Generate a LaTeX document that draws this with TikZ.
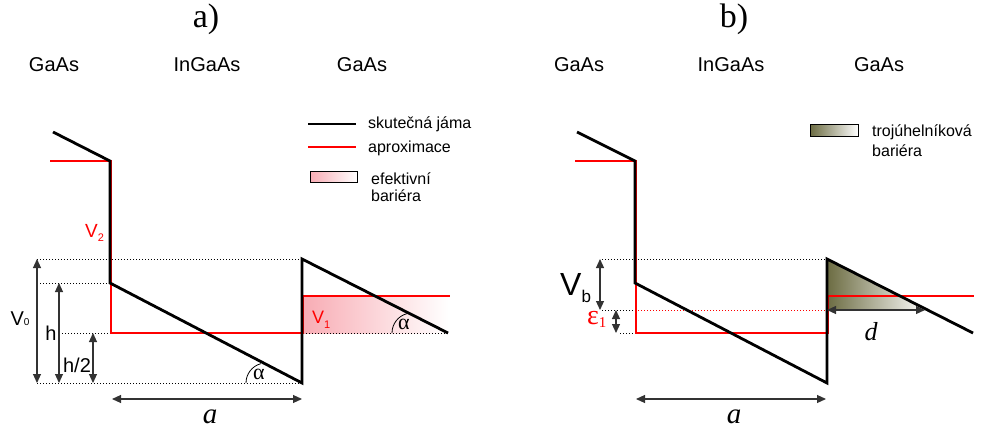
\documentclass[tikz,border=0pt]{standalone}
\usepackage{fontspec}
\setmainfont{Liberation Serif}
\setsansfont{Liberation Sans}
\usetikzlibrary{arrows.meta}
\definecolor{barpink}{RGB}{248,172,180}
\definecolor{barolive}{RGB}{108,108,66}
\tikzset{
  band/.style={line width=2.8pt},
  approx/.style={red, line width=1.1pt},
  guide/.style={dotted, line width=1pt},
  dimarrow/.style={{Triangle[length=9pt,width=8pt]}-{Triangle[length=9pt,width=8pt]},
    line width=1.1pt, black!80},
  lbl/.style={font=\sffamily\fontsize{20}{24}\selectfont, inner sep=0pt},
  legtext/.style={font=\sffamily\fontsize{16}{19}\selectfont, inner sep=0pt, anchor=base west},
  title/.style={font=\fontsize{34}{40}\selectfont, inner sep=0pt, anchor=base},
  var/.style={font=\itshape\fontsize{29}{32}\selectfont, inner sep=0pt, anchor=base},
}
\begin{document}
\begin{tikzpicture}[x=1pt,y=-1pt]
  \useasboundingbox (0,0) rectangle (981,430);

  % ---- a) ----
  \node[title] (ta) at (206,28) {a)};
  \node[lbl, anchor=base] (ga1) at (54,72) {GaAs};
  \node[lbl, anchor=base] (in1) at (207,72) {InGaAs};
  \node[lbl, anchor=base] (ga2) at (362,72) {GaAs};

  \coordinate (A1) at (53,132);
  \coordinate (A2) at (110,161);
  \coordinate (A3) at (110,283);
  \coordinate (A4) at (302,383);
  \coordinate (A5) at (302,259);
  \coordinate (A6) at (448,333);

  \fill[left color=barpink, right color=white] (303,296) rectangle (448,333);

  \draw[guide] (37,259) -- (A5);
  \draw[guide] (40,283) -- (A3);
  \draw[guide] (62,333) -- (110,333);
  \draw[guide] (303,333) -- (A6);
  \draw[guide] (37,383) -- (A4);

  \draw[approx] (50,161) -- (111,161) -- (111,333) -- (303.5,333) -- (303.5,296) -- (450,296);
  \draw[band] (A1) -- (A2) -- (A3) -- (A4) -- (A5) -- (A6);

  \draw[dimarrow] (37,259) -- (37,383);
  \draw[dimarrow] (59,283) -- (59,383);
  \draw[dimarrow] (93,333) -- (93,383);
  \draw[dimarrow] (112,399) -- (302,399);

  \node[lbl, anchor=base] (v0) at (20,325) {V{\fontsize{10}{10}\selectfont 0}};
  \node[lbl, anchor=base] (h) at (51,340) {h};
  \node[lbl, anchor=base] (h2) at (77,372) {h/2};
  \node[lbl, anchor=base west, red, font=\sffamily\fontsize{19}{22}\selectfont] (v2) at (85,237)
    {V\raisebox{-4pt}{\fontsize{11}{11}\selectfont 2}};
  \node[lbl, anchor=base west, red, font=\sffamily\fontsize{18}{22}\selectfont] (v1) at (312,323)
    {V\raisebox{-5pt}{\fontsize{11}{11}\selectfont 1}};
  \node[var] (la) at (210,423) {a};

  \draw[line width=0.8pt] (246,383) arc[start angle=180, end angle=105, radius=20pt];
  \node[inner sep=0pt, anchor=base, font=\fontsize{22}{24}\selectfont] (al1) at (259,379) {α};
  \draw[line width=0.8pt] (392,333) arc[start angle=180, end angle=105, radius=20pt];
  \node[inner sep=0pt, anchor=base, font=\fontsize{22}{24}\selectfont] (al2) at (404,329) {α};

  % legend a
  \draw[line width=1.1pt] (308,124) -- (356,124);
  \node[legtext] (l1) at (368,129) {skutečná jáma};
  \draw[approx] (308,147) -- (356,147);
  \node[legtext] (l2) at (368,153) {aproximace};
  \draw[line width=1pt, left color=barpink, right color=white] (310,172) rectangle (357,183);
  \node[legtext] (l3) at (371,185) {efektivní};
  \node[legtext] (l4) at (371,202) {bariéra};

  % ---- b) ----
  \node[title] (tb) at (734,28) {b)};
  \node[lbl, anchor=base] (ga3) at (579,72) {GaAs};
  \node[lbl, anchor=base] (in2) at (731,72) {InGaAs};
  \node[lbl, anchor=base] (ga4) at (879,72) {GaAs};

  \coordinate (B1) at (577,132);
  \coordinate (B2) at (635,161);
  \coordinate (B3) at (635,283);
  \coordinate (B4) at (827,383);
  \coordinate (B5) at (827,259);
  \coordinate (B6) at (973,333);
  \coordinate (D0) at (827,310);
  \coordinate (D1) at (927,310);

  \fill[left color=barolive, right color=white] (B5) -- (D0) -- (D1) -- cycle;

  \draw[guide] (602,259) -- (B5);
  \draw[guide] (602,310) -- (635,310);
  \draw[guide, red] (635,310) -- (D0);
  \draw[guide] (620,333) -- (635,333);

  \draw[approx] (575,161) -- (636,161) -- (636,333) -- (828.5,333) -- (828.5,296) -- (974,296);
  \draw[band] (B1) -- (B2) -- (B3) -- (B4) -- (B5) -- (B6);

  \draw[dimarrow] (600,259) -- (600,310);
  \draw[dimarrow] (616,310) -- (616,333);
  \draw[dimarrow] (D0) -- (925,310);
  \draw[dimarrow] (636,399) -- (826,399);

  \node[lbl, anchor=base west, font=\sffamily\fontsize{32}{34}\selectfont] (vb) at (560,295)
    {V\raisebox{-7pt}{\fontsize{17}{17}\selectfont b}};
  \node[inner sep=0pt, anchor=base west, red, text height=13pt, text depth=4pt,
    font=\fontsize{28}{30}\selectfont] (eps) at (587,324)
    {ε\raisebox{-3pt}{\fontsize{15}{15}\selectfont 1}};
  \node[var, font=\itshape\fontsize{26}{30}\selectfont] (ld) at (871,340) {d};
  \node[var] (lb) at (734,423) {a};

  % legend b
  \draw[line width=1pt, left color=barolive, right color=white] (810,125) rectangle (858,137);
  \node[legtext] (l5) at (872,137) {trojúhelníková};
  \node[legtext] (l6) at (872,157) {bariéra};
\end{tikzpicture}
\end{document}
